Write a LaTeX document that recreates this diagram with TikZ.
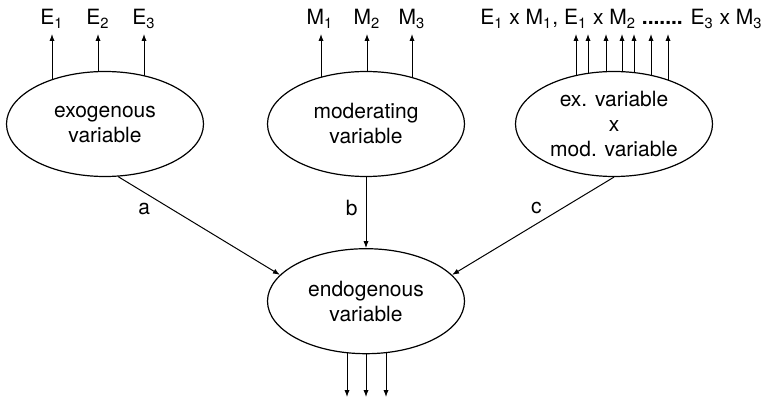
\documentclass[tikz,border=0pt]{standalone}
\usepackage{fontspec}
\setmainfont{TeX Gyre Heros}
\usetikzlibrary{arrows.meta,positioning,shapes.geometric,backgrounds}

\begin{document}
\begin{tikzpicture}[
  x=0.5pt, y=-0.5pt,
  var/.style={draw, ellipse, line width=0.6pt, fill=white, align=center, minimum width=98.5pt, minimum height=52.5pt, inner sep=0pt, font=\fontsize{10.5}{12.5}\selectfont},
  arr/.style={-{Latex[length=3.5pt,width=2.6pt]}, line width=0.5pt},
  lbl/.style={inner sep=0pt, font=\fontsize{10.5}{12.5}\selectfont},
  toplbl/.style={lbl, anchor=base}
]
\useasboundingbox (0,0) rectangle (767,401);

\node[var] (exo) at (105,124) {exogenous\\variable};
\node[var] (mod) at (366,124) {moderating\\variable};
\node[var] (inter) at (614,124) {ex. variable\\x\\mod. variable};
\node[var, below=35.5pt of mod] (endo) {endogenous\\variable};

% indicator labels
\node[toplbl] (le1) at (52,25) {E\textsubscript{1}};
\node[toplbl] (le2) at (98,25) {E\textsubscript{2}};
\node[toplbl] (le3) at (144,25) {E\textsubscript{3}};
\node[toplbl] (lm1) at (320,25) {M\textsubscript{1}};
\node[toplbl] (lm2) at (367,25) {M\textsubscript{2}};
\node[toplbl] (lm3) at (412,25) {M\textsubscript{3}};
\node[toplbl] (lint) at (621.5,25) {E\textsubscript{1} x M\textsubscript{1}, E\textsubscript{1} x M\textsubscript{2} \textbf{.......} E\textsubscript{3} x M\textsubscript{3}};

\coordinate (e1) at (52,34);
\coordinate (e2) at (98,34);
\coordinate (e3) at (144,34);
\coordinate (m1) at (321,34);
\coordinate (m2) at (367,34);
\coordinate (m3) at (412,34);
\coordinate (i1) at (576,34);
\coordinate (i2) at (588,34);
\coordinate (i3) at (606,34);
\coordinate (i4) at (622,34);
\coordinate (i5) at (634,34);
\coordinate (i6) at (651,34);
\coordinate (i7) at (668,34);
\coordinate (o1) at (347,397);
\coordinate (o2) at (366,397);
\coordinate (o3) at (386,397);

% indicator arrows, cut by the ellipses
\begin{scope}[on background layer]
\draw[arr] (exo.center -| e1) -- (e1);
\draw[arr] (exo.center -| e2) -- (e2);
\draw[arr] (exo.center -| e3) -- (e3);
\draw[arr] (mod.center -| m1) -- (m1);
\draw[arr] (mod.center -| m2) -- (m2);
\draw[arr] (mod.center -| m3) -- (m3);
\draw[arr] (inter.center -| i1) -- (i1);
\draw[arr] (inter.center -| i2) -- (i2);
\draw[arr] (inter.center -| i3) -- (i3);
\draw[arr] (inter.center -| i4) -- (i4);
\draw[arr] (inter.center -| i5) -- (i5);
\draw[arr] (inter.center -| i6) -- (i6);
\draw[arr] (inter.center -| i7) -- (i7);
\draw[arr] (endo.center -| o1) -- (o1);
\draw[arr] (endo.center -| o2) -- (o2);
\draw[arr] (endo.center -| o3) -- (o3);
\end{scope}

\draw[arr] (exo.-76) -- node[lbl, pos=0.33, left=10.5pt] {a} (endo.163);
\draw[arr] (mod) -- node[lbl, pos=0.44, left=4pt] {b} (endo);
\draw[arr] (inter.south) -- node[lbl, pos=0.32, left=10pt] {c} (endo.17);

\end{tikzpicture}
\end{document}
